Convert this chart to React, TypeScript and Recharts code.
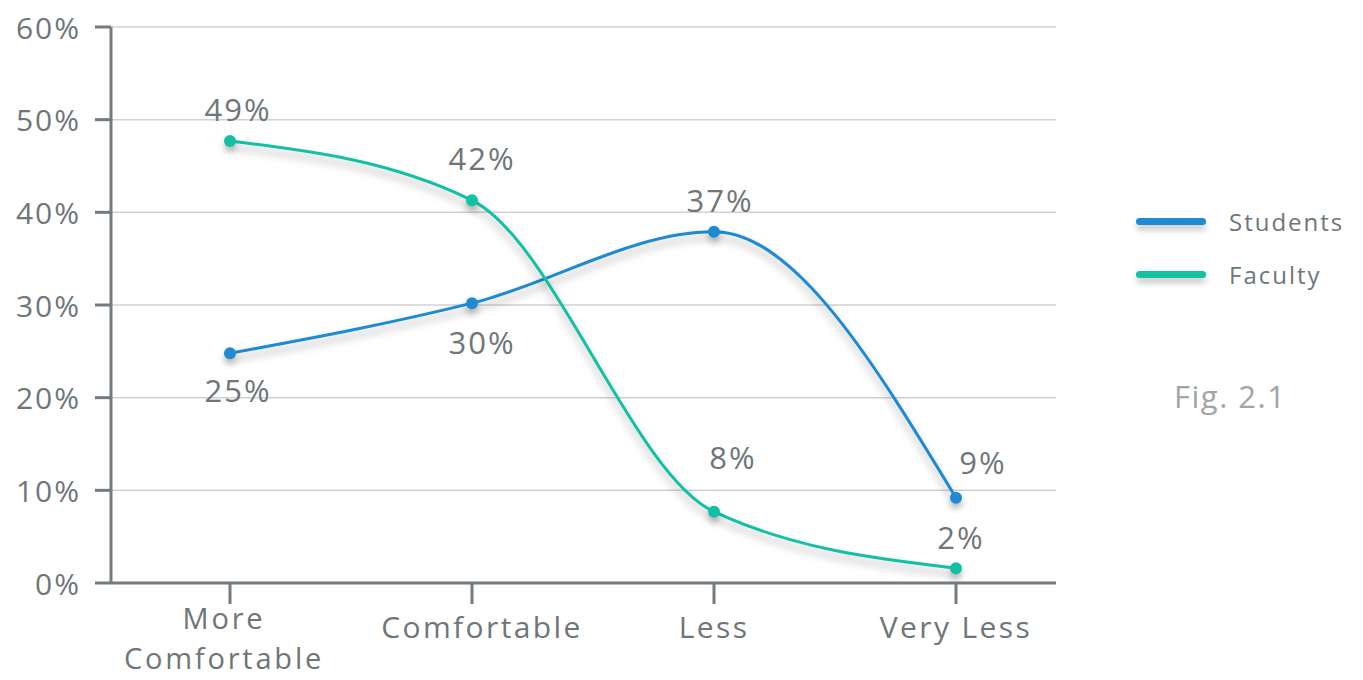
import { CartesianGrid, Line, LineChart, XAxis, YAxis } from 'recharts'

const categories = ['More Comfortable', 'Comfortable', 'Less', 'Very Less']
const studentValues = [24.8, 30.2, 37.9, 9.2]
const facultyValues = [47.7, 41.3, 7.7, 1.6]
const studentLabels = ['25%', '30%', '37%', '9%']
const facultyLabels = ['49%', '42%', '8%', '2%']
const yTicks = [0, 10, 20, 30, 40, 50, 60]

// label offsets from the point (text centre)
const studentOffsets = [
  [8, 37],
  [10, 39],
  [6, -32],
  [27, -36],
]
const facultyOffsets = [
  [8, -32],
  [10, -42],
  [19, -55],
  [5, -31],
]
const tickShift: Record<string, number> = {
  'More Comfortable': -6,
  Comfortable: 10,
  Less: 0,
  'Very Less': 0,
}

const BLUE = '#1e8ad3'
const TEAL = '#12c0a3'
const TEXT = '#6e7679'
const AXIS = '#737b7e'
const FONT = '"Open Sans", sans-serif'

const data = categories.map((name, i) => ({
  name,
  students: studentValues[i],
  faculty: facultyValues[i],
}))

const makeLabel =
  (texts: string[], offsets: number[][]) =>
  (props: any) => {
    const { x, y, index } = props
    const [dx, dy] = offsets[index]
    return (
      <text
        x={x + dx}
        y={y + dy}
        fill={TEXT}
        fontSize={31}
        fontFamily={FONT}
        letterSpacing={2}
        textAnchor="middle"
        dominantBaseline="central"
      >
        {texts[index]}
      </text>
    )
  }

const XTick = (props: any) => {
  const { x, y, payload } = props
  const twoLines = payload.value === 'More Comfortable'
  const lines = twoLines ? ['More', 'Comfortable'] : [payload.value]
  const sx = x + (tickShift[payload.value] ?? 0)
  return (
    <text
      x={sx}
      y={y}
      fill={TEXT}
      fontSize={twoLines ? 29 : 30}
      fontFamily={FONT}
      letterSpacing={twoLines ? 2.8 : 2.4}
      textAnchor="middle"
    >
      {lines.map((l, i) => (
        <tspan key={l} x={sx} dy={i === 0 ? (twoLines ? 23 : 32) : 40}>
          {l}
        </tspan>
      ))}
    </text>
  )
}

const YTick = (props: any) => {
  const { x, y, payload } = props
  return (
    <text
      x={x}
      y={y}
      fill={TEXT}
      fontSize={30}
      fontFamily={FONT}
      letterSpacing={2}
      textAnchor="end"
      dominantBaseline="central"
    >
      {`${payload.value}%`}
    </text>
  )
}

const legendItems = [
  { name: 'Students', color: BLUE },
  { name: 'Faculty', color: TEAL },
]

const ChartLegend = () => (
  <div
    style={{
      position: 'absolute',
      left: 1136,
      top: 195,
      width: 227,
      fontFamily: FONT,
      color: TEXT,
    }}
  >
    {legendItems.map((s) => (
      <div
        key={s.name}
        style={{ display: 'flex', alignItems: 'center', height: 53 }}
      >
        <div
          style={{
            width: 70,
            height: 7,
            borderRadius: 4,
            background: s.color,
            boxShadow: '0 5px 6px rgba(0,0,0,0.22)',
          }}
        />
        <span style={{ marginLeft: 23, fontSize: 24, letterSpacing: 2 }}>
          {s.name}
        </span>
      </div>
    ))}
    <div
      style={{
        marginTop: 74,
        marginLeft: 38,
        fontSize: 31,
        letterSpacing: 1.5,
        color: '#a0a5a8',
      }}
    >
      Fig. 2.1
    </div>
  </div>
)

export default function App() {
  return (
    <div
      style={{
        position: 'absolute',
        left: 0,
        top: 0,
        width: 1363,
        height: 680,
        background: '#fff',
      }}
    >
      <style>{`
        .recharts-line-curve { filter: drop-shadow(0 6px 4px rgba(0,0,0,0.3)); }
        .recharts-line-dot { filter: drop-shadow(0 5px 3px rgba(0,0,0,0.25)); }
      `}</style>
      <LineChart
        width={1363}
        height={680}
        data={data}
        margin={{ top: 27, right: 307, bottom: 0, left: 0 }}
      >
        <CartesianGrid vertical={false} stroke="#cfd2d3" strokeWidth={1.5} />
        <XAxis
          dataKey="name"
          height={97}
          padding={{ left: 119, right: 100 }}
          stroke={AXIS}
          strokeWidth={3}
          tickSize={21}
          tick={<XTick />}
          interval={0}
        />
        <YAxis
          width={111}
          domain={[0, 60]}
          ticks={yTicks}
          stroke={AXIS}
          strokeWidth={3}
          tickSize={16}
          tickMargin={14}
          tick={<YTick />}
        />
        <Line
          type="monotone"
          dataKey="students"
          name="Students"
          stroke={BLUE}
          strokeWidth={3}
          dot={{ r: 6, fill: BLUE, stroke: 'none' }}
          activeDot={false}
          label={makeLabel(studentLabels, studentOffsets)}
          isAnimationActive={false}
        />
        <Line
          type="monotone"
          dataKey="faculty"
          name="Faculty"
          stroke={TEAL}
          strokeWidth={3}
          dot={{ r: 6, fill: TEAL, stroke: 'none' }}
          activeDot={false}
          label={makeLabel(facultyLabels, facultyOffsets)}
          isAnimationActive={false}
        />
      </LineChart>
      <ChartLegend />
    </div>
  )
}
